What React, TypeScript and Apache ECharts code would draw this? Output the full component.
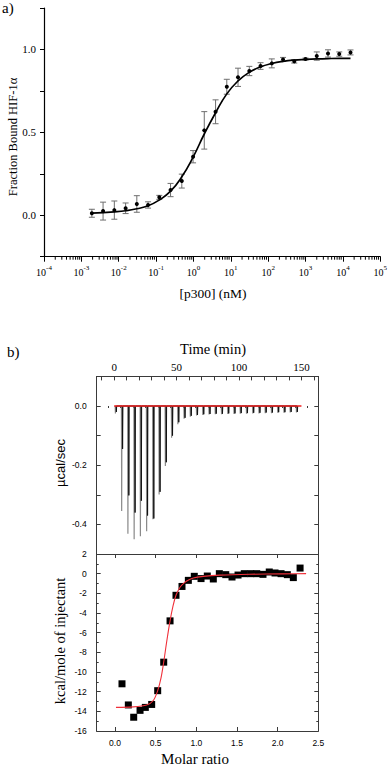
import React, { useEffect, useRef } from "react";
import * as echarts from "echarts";

// ---------- Panel a) : binding curve ----------
const concentrationsNM = [0.00191, 0.00381, 0.00763, 0.0153, 0.0305, 0.061, 0.122, 0.244, 0.488, 0.977, 1.95, 3.91, 7.81, 15.6, 31.3, 62.5, 125, 250, 500, 1000, 2000, 4000, 8000, 16000];
const fractionBound = [0.012, 0.025, 0.031, 0.042, 0.068, 0.062, 0.108, 0.152, 0.206, 0.353, 0.512, 0.624, 0.775, 0.832, 0.87, 0.9, 0.916, 0.94, 0.928, 0.942, 0.96, 0.976, 0.972, 0.982];
const fractionError = [0.024, 0.054, 0.055, 0.032, 0.05, 0.019, 0.012, 0.04, 0.042, 0.037, 0.113, 0.072, 0.045, 0.055, 0.028, 0.02, 0.027, 0.012, 0.01, 0.006, 0.025, 0.022, 0.013, 0.015];
const fitFraction = [0.013, 0.016, 0.02, 0.027, 0.039, 0.057, 0.092, 0.145, 0.232, 0.35, 0.49, 0.618, 0.732, 0.81, 0.862, 0.895, 0.915, 0.928, 0.936, 0.94, 0.943, 0.945, 0.946, 0.946];
const aYLabels = [0, 0.5, 1.0];
const aDecadeMin = -4;
const aDecadeMax = 5;

// ---------- Panel b) top : raw ITC thermogram ----------
const injectionTimesMin = [1, 6, 11, 16, 21, 26, 31, 36, 41, 46, 51, 56, 61, 66, 71, 76, 81, 86, 91, 96, 101, 106, 111, 116, 121, 126, 131, 136, 141, 146];
const peakDepth = [-0.025, -0.355, -0.432, -0.45, -0.44, -0.423, -0.383, -0.299, -0.203, -0.107, -0.062, -0.043, -0.036, -0.032, -0.03, -0.029, -0.028, -0.028, -0.027, -0.027, -0.026, -0.026, -0.025, -0.025, -0.024, -0.024, -0.023, -0.023, -0.022, -0.022];
const coreDepth = [-0.02, -0.145, -0.302, -0.36, -0.32, -0.37, -0.38, -0.29, -0.19, -0.1, -0.055, -0.04, -0.033, -0.03, -0.028, -0.027, -0.026, -0.026, -0.025, -0.025, -0.024, -0.024, -0.023, -0.023, -0.022, -0.022, -0.021, -0.021, -0.02, -0.02];
const baselineTimes = [0, 150];
const baselineValues = [0, 0];
const timeLabels = [0, 50, 100, 150];

// ---------- Panel b) bottom : integrated heats ----------
const molarRatio = [0.086, 0.164, 0.23, 0.308, 0.373, 0.451, 0.525, 0.599, 0.677, 0.75, 0.824, 0.902, 0.975, 1.058, 1.135, 1.209, 1.283, 1.362, 1.439, 1.513, 1.59, 1.669, 1.743, 1.82, 1.897, 1.968, 2.042, 2.119, 2.193, 2.276];
const heatKcal = [-11.2, -13.35, -14.6, -13.9, -13.6, -13.3, -11.9, -9.0, -4.8, -2.2, -1.3, -0.68, -0.27, -0.5, -0.24, -0.54, 0, -0.1, -0.34, -0.14, 0, 0, 0, -0.07, 0.17, 0.07, 0, -0.1, -0.4, 0.57];
const fitRatio = [0.012, 0.225, 0.39, 0.471, 0.525, 0.566, 0.599, 0.636, 0.677, 0.713, 0.75, 0.787, 0.824, 0.882, 0.963, 1.086, 1.29, 1.66, 2.07, 2.35];
const fitHeat = [-13.6, -13.55, -13.35, -12.9, -11.9, -10.6, -9.0, -6.9, -4.8, -3.3, -2.2, -1.55, -1.15, -0.75, -0.45, -0.28, -0.15, -0.06, -0.02, 0];
const ratioLabels = [0, 0.5, 1.0, 1.5, 2.0, 2.5];

const SERIF = "Liberation Serif";
const SANS = "Liberation Sans";
const BOX = "#3a3a3a";

function buildOption() {
  const minorTicks: number[] = [];
  for (let n = aDecadeMin; n < aDecadeMax; n++) {
    for (let k = 2; k <= 9; k++) minorTicks.push(n + Math.log10(k));
  }

  const grayTrace: number[][] = [];
  const coreTrace: number[][] = [];
  injectionTimesMin.forEach((t, i) => {
    grayTrace.push([t - 0.2, 0], [t, peakDepth[i]], [t + 0.25, 0]);
    coreTrace.push([t + 0.55, 0], [t + 0.75, coreDepth[i]], [t + 1.0, 0]);
  });

  const timeTicksMajor: number[] = [];
  for (let v = -10; v <= 160; v += 10) timeTicksMajor.push(v);
  const timeTicksMinor: number[] = [];
  for (let v = -5; v <= 160; v += 10) timeTicksMinor.push(v);

  const logX = concentrationsNM.map((c) => Math.log10(c));

  return {
    animation: false,
    backgroundColor: "#fff",
    grid: [
      { left: 44, top: 8, width: 338, height: 248.7 },
      { left: 96.7, top: 376.4, width: 221.6, height: 177.6 },
      { left: 96.7, top: 554, width: 221.6, height: 177 },
    ],
    xAxis: [
      {
        gridIndex: 0, type: "value", min: aDecadeMin, max: aDecadeMax, interval: 1,
        axisLine: { show: true, onZero: false, lineStyle: { color: "#000", width: 1.2 } },
        axisTick: { show: true, inside: false, length: 5, lineStyle: { color: "#000" } },
        splitLine: { show: false },
        axisLabel: {
          margin: 8,
          formatter: (v: number) => `{b|10}{s|${Math.round(v)}}`,
          rich: {
            b: { fontFamily: SERIF, fontSize: 10, color: "#000", lineHeight: 13, verticalAlign: "bottom" },
            s: { fontFamily: SERIF, fontSize: 7, color: "#000", lineHeight: 13, verticalAlign: "top" },
          },
        },
      },
      {
        gridIndex: 1, type: "value", position: "top", min: -14, max: 163.5,
        axisLine: { show: true, onZero: false, lineStyle: { color: BOX, width: 1 } },
        axisTick: { show: true, inside: true, length: 4, customValues: timeTicksMajor, lineStyle: { color: BOX } },
        splitLine: { show: false },
        axisLabel: { customValues: timeLabels, margin: 4, fontFamily: SERIF, fontSize: 11, color: "#000" },
      },
      {
        gridIndex: 1, type: "value", position: "top", min: -14, max: 163.5,
        axisLine: { show: false },
        axisTick: { show: true, inside: true, length: 2, customValues: timeTicksMinor, lineStyle: { color: BOX } },
        splitLine: { show: false },
        axisLabel: { show: false },
      },
      {
        gridIndex: 2, type: "value", position: "bottom", min: -0.225, max: 2.5,
        axisLine: { show: true, onZero: false, lineStyle: { color: BOX, width: 1 } },
        axisTick: { show: true, inside: true, length: 4, customValues: ratioLabels, lineStyle: { color: BOX } },
        splitLine: { show: false },
        axisLabel: {
          customValues: ratioLabels, margin: 7, fontFamily: SANS, fontSize: 8.5, color: "#000",
          formatter: (v: number) => v.toFixed(1),
        },
      },
      {
        gridIndex: 2, type: "value", position: "top", min: -0.225, max: 2.5,
        axisLine: { show: true, onZero: false, lineStyle: { color: BOX, width: 1 } },
        axisTick: { show: true, inside: true, length: 4, customValues: ratioLabels, lineStyle: { color: BOX } },
        splitLine: { show: false },
        axisLabel: { show: false },
      },
    ],
    yAxis: [
      {
        gridIndex: 0, type: "value", min: -0.25, max: 1.25, interval: 0.25,
        axisLine: { show: true, onZero: false, lineStyle: { color: "#000", width: 1.2 } },
        axisTick: { show: true, inside: false, length: 4, lineStyle: { color: "#000" } },
        splitLine: { show: false },
        axisLabel: {
          margin: 8, fontFamily: SERIF, fontSize: 11, color: "#000",
          formatter: (v: number) => (aYLabels.some((l) => Math.abs(l - v) < 1e-6) ? v.toFixed(1) : ""),
        },
      },
      {
        gridIndex: 1, type: "value", min: -0.5, max: 0.1, interval: 0.1,
        axisLine: { show: true, onZero: false, lineStyle: { color: BOX, width: 1 } },
        axisTick: { show: true, inside: true, length: 4, lineStyle: { color: BOX } },
        splitLine: { show: false },
        axisLabel: {
          margin: 10, fontFamily: SANS, fontSize: 8.5, color: "#000",
          formatter: (v: number) => {
            const k = Math.round(v * 10);
            if (k % 2 !== 0 || k > 0) return "";
            return k === 0 ? "0.0" : (k / 10).toFixed(1);
          },
        },
      },
      {
        gridIndex: 1, type: "value", position: "right", min: -0.5, max: 0.1, interval: 0.1,
        axisLine: { show: true, onZero: false, lineStyle: { color: BOX, width: 1 } },
        axisTick: { show: true, inside: true, length: 4, lineStyle: { color: BOX } },
        splitLine: { show: false },
        axisLabel: { show: false },
      },
      {
        gridIndex: 2, type: "value", min: -16, max: 2, interval: 2,
        axisLine: { show: true, onZero: false, lineStyle: { color: BOX, width: 1 } },
        axisTick: { show: true, inside: true, length: 4, lineStyle: { color: BOX } },
        minorTick: { show: true, splitNumber: 2, length: 2, lineStyle: { color: BOX } },
        splitLine: { show: false },
        axisLabel: { margin: 10, fontFamily: SANS, fontSize: 8.5, color: "#000" },
      },
      {
        gridIndex: 2, type: "value", position: "right", min: -16, max: 2, interval: 2,
        axisLine: { show: true, onZero: false, lineStyle: { color: BOX, width: 1 } },
        axisTick: { show: true, inside: true, length: 4, lineStyle: { color: BOX } },
        minorTick: { show: true, splitNumber: 2, length: 2, lineStyle: { color: BOX } },
        splitLine: { show: false },
        axisLabel: { show: false },
      },
    ],
    series: [
      {
        type: "custom", xAxisIndex: 0, yAxisIndex: 0, silent: true,
        data: logX.map((x, i) => [x, fractionBound[i] - fractionError[i], fractionBound[i] + fractionError[i]]),
        renderItem: (params: any, api: any) => {
          const lo = api.coord([api.value(0), api.value(1)]);
          const hi = api.coord([api.value(0), api.value(2)]);
          const w = 3;
          const st = { stroke: "#6e6e6e", lineWidth: 1, fill: "none" };
          return {
            type: "group",
            children: [
              { type: "line", shape: { x1: lo[0], y1: lo[1], x2: hi[0], y2: hi[1] }, style: st },
              { type: "line", shape: { x1: lo[0] - w, y1: lo[1], x2: lo[0] + w, y2: lo[1] }, style: st },
              { type: "line", shape: { x1: hi[0] - w, y1: hi[1], x2: hi[0] + w, y2: hi[1] }, style: st },
            ],
          };
        },
      },
      {
        type: "line", xAxisIndex: 0, yAxisIndex: 0, smooth: true, showSymbol: false,
        lineStyle: { color: "#000", width: 1.7 },
        data: logX.map((x, i) => [x, fitFraction[i]]),
      },
      {
        type: "scatter", xAxisIndex: 0, yAxisIndex: 0, symbol: "circle", symbolSize: 4,
        itemStyle: { color: "#000", opacity: 1 },
        data: logX.map((x, i) => [x, fractionBound[i]]),
      },
      {
        type: "custom", xAxisIndex: 0, yAxisIndex: 0, silent: true, clip: false,
        data: minorTicks.map((x) => [x]),
        renderItem: (params: any, api: any) => {
          const p = api.coord([api.value(0), -0.25]);
          return { type: "line", shape: { x1: p[0], y1: p[1], x2: p[0], y2: p[1] + 3 }, style: { stroke: "#000", lineWidth: 1 } };
        },
      },
      {
        type: "line", xAxisIndex: 1, yAxisIndex: 1, showSymbol: false,
        lineStyle: { color: "#8a8a8a", width: 1.2 },
        data: grayTrace,
      },
      {
        type: "line", xAxisIndex: 1, yAxisIndex: 1, showSymbol: false,
        lineStyle: { color: "#111", width: 1 },
        data: coreTrace,
      },
      {
        type: "line", xAxisIndex: 1, yAxisIndex: 1, showSymbol: false,
        lineStyle: { color: "#ee1c1c", width: 1.6 },
        data: baselineTimes.map((t, i) => [t, baselineValues[i]]),
      },
      {
        type: "line", xAxisIndex: 3, yAxisIndex: 3, showSymbol: false, smooth: 0.3,
        lineStyle: { color: "#f0303a", width: 1.1 },
        data: fitRatio.map((r, i) => [r, fitHeat[i]]),
      },
      {
        type: "scatter", xAxisIndex: 3, yAxisIndex: 3, symbol: "rect", symbolSize: 7,
        itemStyle: { color: "#000", opacity: 1 },
        data: molarRatio.map((r, i) => [r, heatKcal[i]]),
      },
    ],
    graphic: [
      { type: "text", x: 2, y: 8, style: { text: "a)", fontFamily: SERIF, fontSize: 15, fill: "#000", align: "left", verticalAlign: "middle", textAlign: "left", textVerticalAlign: "middle" } },
      { type: "text", x: 13, y: 137, rotation: Math.PI / 2, style: { text: "Fraction Bound HIF-1α", fontFamily: SERIF, fontSize: 12.5, fill: "#000", align: "center", verticalAlign: "middle", textAlign: "center", textVerticalAlign: "middle" } },
      { type: "text", x: 213, y: 293, style: { text: "[p300] (nM)", fontFamily: SERIF, fontSize: 13.5, fill: "#000", align: "center", verticalAlign: "middle", textAlign: "center", textVerticalAlign: "middle" } },
      { type: "text", x: 7, y: 352, style: { text: "b)", fontFamily: SERIF, fontSize: 15, fill: "#000", align: "left", verticalAlign: "middle", textAlign: "left", textVerticalAlign: "middle" } },
      { type: "text", x: 213, y: 349, style: { text: "Time (min)", fontFamily: SERIF, fontSize: 14.5, fill: "#000", align: "center", verticalAlign: "middle", textAlign: "center", textVerticalAlign: "middle" } },
      { type: "text", x: 60, y: 463, rotation: Math.PI / 2, style: { text: "µcal/sec", fontFamily: SANS, fontSize: 13, fill: "#000", align: "center", verticalAlign: "middle", textAlign: "center", textVerticalAlign: "middle" } },
      { type: "text", x: 60, y: 641, rotation: Math.PI / 2, style: { text: "kcal/mole of injectant", fontFamily: SERIF, fontSize: 14.5, fill: "#000", align: "center", verticalAlign: "middle", textAlign: "center", textVerticalAlign: "middle" } },
      { type: "text", x: 195, y: 759, style: { text: "Molar ratio", fontFamily: SERIF, fontSize: 15, fill: "#000", align: "center", verticalAlign: "middle", textAlign: "center", textVerticalAlign: "middle" } },
    ],
  };
}

export default function App() {
  const ref = useRef<HTMLDivElement>(null);
  useEffect(() => {
    document.body.style.margin = "0";
    const chart = echarts.init(ref.current!, null, { renderer: "svg" });
    chart.setOption(buildOption() as any);
    return () => chart.dispose();
  }, []);
  return <div ref={ref} style={{ width: 390, height: 767 }} />;
}
